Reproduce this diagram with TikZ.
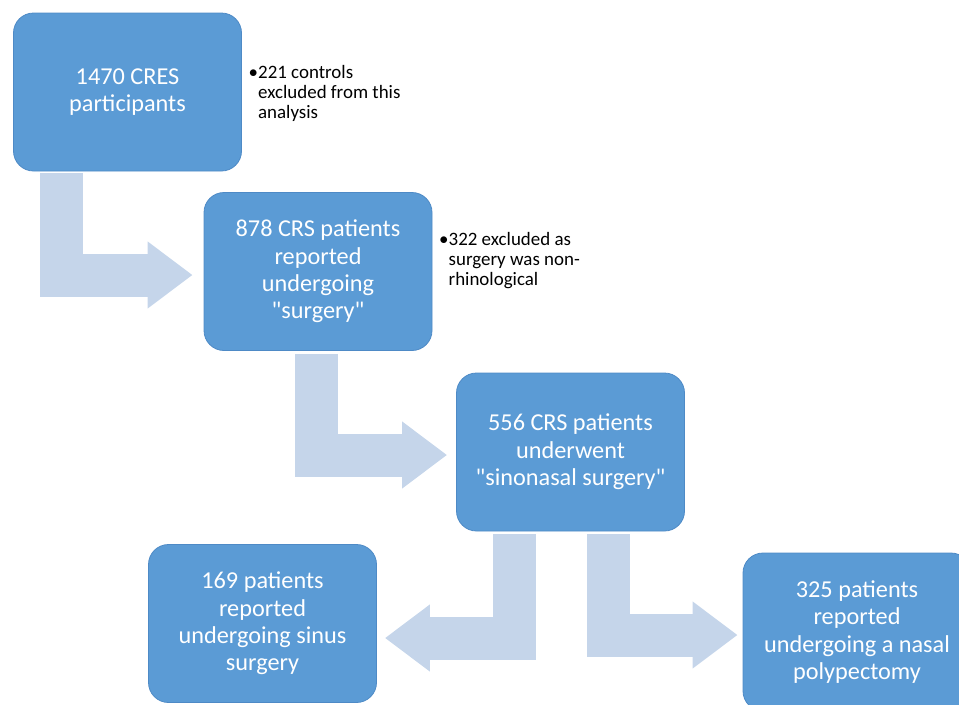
\documentclass[tikz,border=0pt]{standalone}
\usepackage{fontspec}
\setmainfont{Carlito}[Ligatures=TeXOff]
\usetikzlibrary{arrows.meta,positioning,calc}

\definecolor{boxblue}{RGB}{91,155,213}
\definecolor{boxedge}{RGB}{78,138,198}
\definecolor{flowblue}{RGB}{197,213,234}

\begin{document}
\begin{tikzpicture}[x=0.75pt, y=-0.75pt,
    stage/.style={rectangle, rounded corners=15pt, fill=boxblue, draw=boxedge,
      line width=0.6pt, minimum width=171pt, minimum height=118.5pt,
      align=center, text=white, font=\fontsize{18.2}{20.5}\selectfont},
    aside/.style={align=left, inner sep=0pt, font=\fontsize{14.2}{15}\selectfont},
    flow/.style={draw=flowblue, line width=32.25pt, line join=miter,
      -{Triangle[width=48pt,length=33.75pt]}}]

  \useasboundingbox (0,0) rectangle (959,704);

  % Draw the stage boxes
  \node[stage] (cres) at (127.5,92) {1470 CRES\\participants};
  \node[stage] (surgery) at (318,271.5) {878 CRS patients\\reported\\undergoing\\"surgery"};
  \node[stage] (sinonasal) at (570.5,452) {556 CRS patients\\underwent\\"sinonasal surgery"};
  \node[stage] (sinus) at (262.5,623.5) {169 patients\\reported\\undergoing sinus\\surgery};
  \node[stage] (polyp) at (857,632) {325 patients\\reported\\undergoing a nasal\\polypectomy};

  % Draw the side notes
  \node[aside, right=12pt of cres, yshift=-1pt] (controls) {\llap{•}221 controls\\excluded from this\\analysis};
  \node[aside, right=12pt of surgery, yshift=8.25pt] (nonrhino) {\llap{•}322 excluded as\\surgery was non-\\rhinological};

  % Draw the bent flow arrows
  \draw[flow] ($(cres.south west)+(48.5,2)$) |- ($(surgery.west)+(-11,3.5)$);
  \draw[flow] ($(surgery.south)+(-1.5,3)$) |- ($(sinonasal.west)+(-9,3)$);
  \draw[flow] ($(sinonasal.south west)+(58.5,3)$) |- ($(sinus.east)+(8,14.5)$);
  \draw[flow] ($(sinonasal.south east)+(-76.5,3)$) |- ($(polyp.west)+(-5,3)$);

\end{tikzpicture}
\end{document}
